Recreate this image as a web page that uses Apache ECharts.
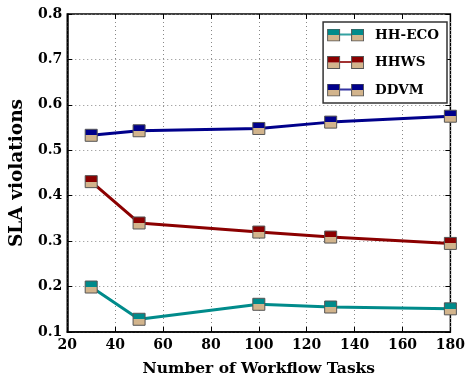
<!DOCTYPE html>
<html><head><meta charset="utf-8">
<script src="https://cdn.jsdelivr.net/npm/echarts@6/dist/echarts.min.js"></script>
<style>html,body{margin:0;padding:0;background:#fff}#c{width:468px;height:384px}</style>
</head><body><div id="c"></div>
<script>
const xValues = [30, 50, 100, 130, 180];
const hhEco = [0.199, 0.128, 0.161, 0.155, 0.151];
const hhws = [0.431, 0.340, 0.320, 0.309, 0.295];
const ddvm = [0.533, 0.543, 0.548, 0.562, 0.575];
const seriesNames = ['HH-ECO', 'HHWS', 'DDVM'];
const seriesColors = ['#008B8B', '#8B0000', '#00008B'];
const tan = '#D2B48C';
const xTitle = 'Number of Workflow Tasks';
const yTitle = 'SLA violations';

const FONT = 'DejaVu Serif';
function twoTone(c) {
  return {type:'linear', x:0, y:0, x2:0, y2:1, colorStops:[
    {offset:0, color:c},{offset:0.5, color:c},{offset:0.5, color:tan},{offset:1, color:tan}]};
}
function sq(x, c) {
  return "<rect x='" + (x + 0.5) + "' y='6.5' width='12' height='6' fill='" + tan + "'/>" +
         "<rect x='" + (x + 0.5) + "' y='0.5' width='12' height='6' fill='" + c + "'/>" +
         "<rect x='" + (x + 0.5) + "' y='0.5' width='12' height='12' fill='none' stroke='#555' stroke-width='1'/>";
}
function legendIcon(c) {
  const svg = "<svg xmlns='http://www.w3.org/2000/svg' width='37' height='13' viewBox='0 0 37 13'>" +
    "<line x1='12' y1='6' x2='25' y2='6' stroke='" + c + "' stroke-width='2' stroke-opacity='0.8'/>" +
    sq(0, c) + sq(24, c) + "</svg>";
  return 'image://data:image/svg+xml;charset=utf-8,' + encodeURIComponent(svg);
}
const allData = [hhEco, hhws, ddvm];
const series = allData.map((d, i) => ({
  name: seriesNames[i], type:'line',
  data: d.map((v, j) => [xValues[j], v]),
  symbol:'rect', symbolSize:12,
  lineStyle:{color:seriesColors[i], width:3},
  itemStyle:{color:twoTone(seriesColors[i]), borderColor:'#555', borderWidth:1},
  z: 3
}));
const tickLabel = {fontFamily:FONT, fontWeight:'bold', fontSize:14, color:'#000'};
const chart = echarts.init(document.getElementById('c'), null, {renderer:'canvas'});
chart.setOption({
  animation:false,
  backgroundColor:'#fff',
  grid:{left:58, right:13, top:14, bottom:52, show:true, borderColor:'#000', borderWidth:1.5},
  legend:{
    orient:'vertical', right:21, top:22, padding:[6,8,6,4],
    itemWidth:37, itemHeight:13, itemGap:13.5,
    borderColor:'#333', borderWidth:1.5, backgroundColor:'#fff',
    textStyle:{fontFamily:FONT, fontWeight:'bold', fontSize:13.5, lineHeight:14, color:'#000', padding:[0,0,0,6]},
    data: seriesNames.map((n, i) => ({name:n, icon:legendIcon(seriesColors[i])}))
  },
  xAxis:[{
    type:'value', min:20, max:180, interval:20,
    name:xTitle, nameLocation:'middle', nameGap:29,
    nameTextStyle:{fontFamily:FONT, fontWeight:'bold', fontSize:15.5, color:'#000'},
    axisLine:{lineStyle:{color:'#000', width:1.5}},
    axisTick:{inside:true, length:5, lineStyle:{color:'#000'}},
    axisLabel:Object.assign({margin:6}, tickLabel),
    splitLine:{show:true, lineStyle:{color:'#888', type:[1,3], width:1}}
  },{
    type:'value', position:'top', min:20, max:180, interval:20,
    axisLine:{show:false}, axisTick:{inside:true, length:5, lineStyle:{color:'#000'}},
    axisLabel:{show:false}, splitLine:{show:false}
  }],
  yAxis:[{
    type:'value', min:0.1, max:0.8, interval:0.1,
    name:yTitle, nameLocation:'middle', nameGap:33,
    nameTextStyle:{fontFamily:FONT, fontWeight:'bold', fontSize:18.5, color:'#000'},
    axisLine:{show:true, lineStyle:{color:'#000', width:1.5}},
    axisTick:{show:true, inside:true, length:5, lineStyle:{color:'#000'}},
    axisLabel:Object.assign({margin:5, formatter:v => v.toFixed(1)}, tickLabel),
    splitLine:{show:true, lineStyle:{color:'#888', type:[1,3], width:1}}
  },{
    type:'value', position:'right', min:0.1, max:0.8, interval:0.1,
    axisLine:{show:false}, axisTick:{show:true, inside:true, length:5, lineStyle:{color:'#000'}},
    axisLabel:{show:false}, splitLine:{show:false}
  }],
  series: series
});
</script></body></html>
